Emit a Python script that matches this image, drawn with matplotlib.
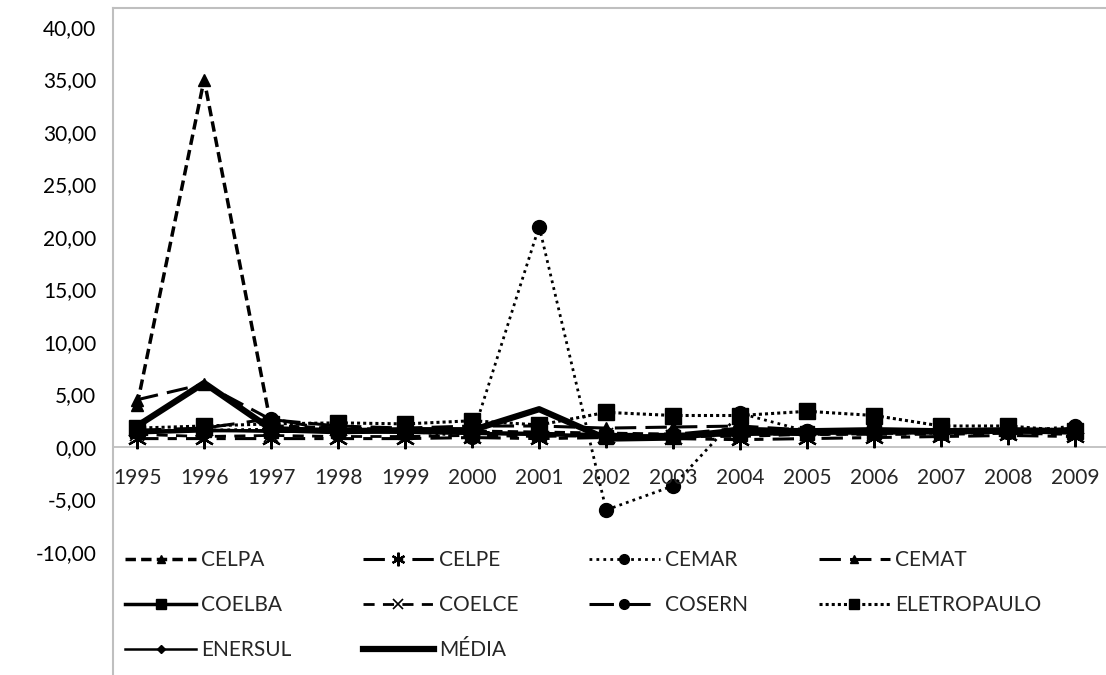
import matplotlib
matplotlib.use('Agg')
import matplotlib.pyplot as plt
from matplotlib.lines import Line2D

plt.rcParams.update({
    'font.family': ['Lato', 'DejaVu Sans'],
    'font.size': 15,
    'text.color': '#262626',
})

years = ['1995', '1996', '1997', '1998', '1999', '2000', '2001', '2002',
         '2003', '2004', '2005', '2006', '2007', '2008', '2009']

celpa = [4.0, 35.0, 2.0, 1.8, 1.6, 1.5, 1.4, 1.3, 1.2, 1.3, 1.2, 1.3, 1.4, 1.5, 1.4]
celpe = [0.8, 0.8, 0.8, 0.8, 0.8, 0.9, 0.8, 0.9, 0.8, 0.7, 0.8, 0.9, 1.0, 1.1, 1.0]
cemar = [1.5, 1.6, 1.7, 1.6, 1.5, 1.0, 21.0, -6.0, -3.7, 3.2, 1.5, 1.4, 1.3, 1.4, 2.0]
cemat = [4.5, 6.0, 2.6, 2.0, 1.8, 2.0, 2.0, 1.8, 1.9, 2.0, 1.6, 1.5, 1.5, 1.5, 1.4]
coelba = [1.5, 1.6, 1.5, 1.5, 1.4, 1.3, 1.2, 1.0, 1.0, 1.2, 1.3, 1.4, 1.4, 1.5, 1.5]
coelce = [1.2, 1.0, 1.1, 1.0, 1.0, 1.1, 1.0, 1.1, 1.0, 1.0, 1.2, 1.2, 1.2, 1.3, 1.2]
cosern = [1.6, 1.8, 2.7, 1.5, 1.5, 1.4, 1.3, 1.2, 1.2, 1.8, 1.5, 1.5, 1.4, 1.4, 1.8]
eletropaulo = [1.8, 2.0, 2.2, 2.3, 2.2, 2.5, 2.1, 3.3, 3.0, 3.0, 3.4, 3.0, 2.0, 2.0, 1.5]
enersul = [1.3, 1.5, 1.6, 1.5, 1.4, 1.3, 1.2, 1.1, 1.1, 1.4, 1.3, 1.3, 1.3, 1.4, 1.3]
media = [2.0, 6.1, 1.7, 1.5, 1.6, 1.6, 3.6, 0.8, 0.9, 1.6, 1.5, 1.6, 1.5, 1.6, 1.5]

yticks = [-10, -5, 0, 5, 10, 15, 20, 25, 30, 35, 40]

K = 'black'
W, H = 1106, 675
fig = plt.figure(figsize=(W / 100, H / 100), dpi=100)
ax = fig.add_axes([113 / W, 1 - 552 / H, (W - 113) / W, (552 - 27) / H])

x = list(range(len(years)))
series = [
    ('CELPA', celpa, dict(ls=(0, (3, 1.5)), lw=2.5, marker='^', ms=9)),
    ('CELPE', celpe, dict(ls=(0, (7, 3, 3, 3)), lw=2.2, marker=(6, 2, 0), ms=14, mew=1.6)),
    ('CEMAR', cemar, dict(ls=(0, (1, 1.5)), lw=2, marker='o', ms=10)),
    ('CEMAT', cemat, dict(ls=(0, (7, 3)), lw=2.2, marker='^', ms=9)),
    ('COELBA', coelba, dict(ls='-', lw=2.5, marker='s', ms=10)),
    ('COELCE', coelce, dict(ls=(0, (4, 3)), lw=2, marker='x', ms=10, mew=1.2)),
    ('COSERN', cosern, dict(ls=(0, (8, 4)), lw=2.2, marker='o', ms=10)),
    ('ELETROPAULO', eletropaulo, dict(ls=(0, (1, 1)), lw=2.2, marker='s', ms=11)),
    ('ENERSUL', enersul, dict(ls='-', lw=1.8, marker='D', ms=6)),
    ('MÉDIA', media, dict(ls='-', lw=4.5, marker=None)),
]

handles = {}
for name, vals, kw in series:
    ln, = ax.plot(x, vals, color=K, label=name, **kw)
    handles[name] = ln

ax.set_xlim(-0.36, 14.46)
ax.set_ylim(-10, 40)
ax.set_yticks(yticks)
ax.set_yticklabels([f'{v:.2f}'.replace('.', ',') for v in yticks])
ax.tick_params(axis='y', length=0, pad=12)
ax.set_xticks([])
for s in ax.spines.values():
    s.set_visible(False)
ax.axhline(0, color='#bfbfbf', lw=1.3, zorder=0)
for i, yr in enumerate(years):
    ax.text(i, -3.0, yr, ha='center', va='center')

# chart borders
fig.add_artist(Line2D([113 / W, 113 / W], [0, 1 - 8 / H], color='#bfbfbf', lw=1.5))
fig.add_artist(Line2D([113 / W, 1], [1 - 8 / H, 1 - 8 / H], color='#bfbfbf', lw=1.5))

order = ['CELPA', 'COELBA', 'ENERSUL', 'CELPE', 'COELCE', 'MÉDIA',
         'CEMAR', 'COSERN', 'CEMAT', 'ELETROPAULO']
fig.legend([handles[n] for n in order], order, ncol=4, frameon=False,
           loc='upper left', bbox_to_anchor=(115 / W, 1 - 540 / H),
           borderpad=0, handlelength=3.4, handletextpad=0.25, markerscale=0.7,
           columnspacing=3.4, labelspacing=1.2, fontsize=15)

fig.savefig('out.png', dpi=100)
